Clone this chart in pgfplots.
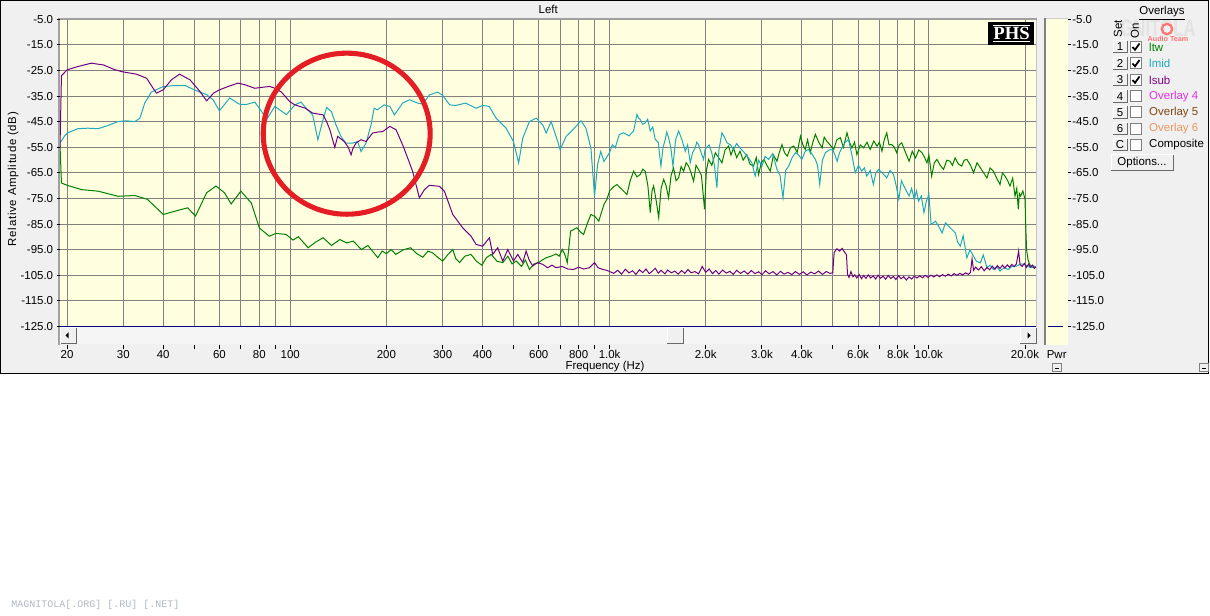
\documentclass[border=0pt]{standalone}
\usepackage{fontspec}
\setmainfont{Liberation Sans}
\newfontfamily\serifb{Liberation Serif}
\newfontfamily\monof{Liberation Mono}
\usepackage{pgfplots}
\pgfplotsset{compat=1.18}
\definecolor{winbg}{RGB}{240,240,240}
\definecolor{scrollc}{RGB}{245,245,245}
\definecolor{plotbg}{RGB}{255,255,224}
\definecolor{gridc}{RGB}{128,128,128}
\definecolor{framec}{RGB}{160,160,160}
\definecolor{ltwc}{RGB}{0,128,0}
\definecolor{lmidc}{RGB}{30,170,190}
\definecolor{lsubc}{RGB}{112,0,132}
\definecolor{lsubt}{RGB}{128,0,128}
\definecolor{ov4}{RGB}{225,50,225}
\definecolor{ov5}{RGB}{128,70,20}
\definecolor{ov6}{RGB}{235,150,100}
\definecolor{navyl}{RGB}{0,0,128}
\definecolor{redc}{RGB}{228,28,36}
\definecolor{wmc}{RGB}{175,185,195}
\definecolor{btndark}{RGB}{105,105,105}
\newcommand\uifont{\fontsize{8.6}{10}\selectfont}
\newcommand{\ovrow}[5]{%
  \fill[winbg] (1113,#1-6) rectangle (1127,#1+6);
  \draw[white,line width=0.75pt] (1113,#1+6)--(1113,#1-6)--(1127,#1-6);
  \draw[btndark,line width=0.75pt] (1127,#1-6)--(1127,#1+6)--(1113,#1+6);
  \node at (1120,#1) {#2};
  \filldraw[fill=white,draw=gray,line width=0.75pt] (1130.5,#1-5.5) rectangle (1141.5,#1+5.5);
  \ifnum#5=1 \draw[black,line width=1.3pt] (1132.5,#1) -- (1135,#1+2.8) -- (1139.5,#1-3.5);\fi
  \node[anchor=west,text=#4] at (1144.5,#1) {#3};
}
\begin{document}
\begin{tikzpicture}[x=0.75pt,y=-0.75pt,every node/.style={font=\uifont}]
\fill[white] (0,0) rectangle (1210,616);
\fill[winbg] (0,0) rectangle (1209,374);
\draw[black,line width=0.75pt] (0.5,0.5) rectangle (1208.5,373.5);
% overlays panel watermark (faint logo behind the panel)
\node[text=black!11,font=\fontsize{18}{18}\selectfont\bfseries,inner sep=0pt,xscale=0.7] at (1158,28.5) {GNITOLA};
\draw[red!55,line width=1.7pt] (1167,29) circle [radius=3.9pt];
\node[text=red!55,font=\fontsize{5.4}{5.4}\selectfont\bfseries,inner sep=0pt] at (1168,39) {Audio Team};
\coordinate (axSW) at (60,326.6);
\begin{axis}[
  at={(axSW)}, anchor=south west,
  scale only axis, width=732.4pt, height=230.4pt,
  xmode=log, log basis x=10,
  xmin=19, xmax=21735, ymin=-125, ymax=-5,
  axis background/.style={fill=plotbg},
  axis line style={draw=none},
  grid=major, major grid style={draw=gridc,line width=0.75pt},
  xtick={20,30,40,50,60,70,80,90,100,200,300,400,500,600,700,800,900,1000,2000,3000,4000,5000,6000,7000,8000,9000,10000,20000},
  xticklabels={20,30,40,,60,,80,,100,200,300,400,,600,,800,,1.0k,2.0k,3.0k,4.0k,,6.0k,,8.0k,,10.0k,20.0k},
  ytick={-125,-115,-105,-95,-85,-75,-65,-55,-45,-35,-25,-15,-5},
  yticklabels={-125.0,-115.0,-105.0,-95.0,-85.0,-75.0,-65.0,-55.0,-45.0,-35.0,-25.0,-15.0,-5.0},
  tick style={draw=none}, major tick length=0pt,
  xticklabel style={font=\uifont,anchor=center,inner sep=0pt,yshift=-20.7pt},
  yticklabel style={font=\uifont,anchor=east,inner sep=0pt,xshift=-5pt},
  every axis title shift=0pt,
  title={Left}, title style={font=\uifont,at={(axis description cs:0.5,1.0322)},anchor=center,inner sep=0pt},
  xlabel={Frequency (Hz)}, xlabel style={font=\uifont,at={(axis description cs:0.5581,-0.1305)},anchor=center},
  ylabel={\addfontfeatures{LetterSpace=6}Relative Amplitude (dB)}, ylabel style={font=\uifont,at={(axis description cs:-0.0481,0.4805)},anchor=center},
  clip=false,
  every axis plot/.append style={line width=0.75pt},
]
% ltw
\addplot[ltwc] coordinates {
(19.0,-54) (19.2,-68.9) (20,-69.8) (22.2,-71.5) (25,-72.1) (28.9,-74.1) (32.6,-73.8) (35.7,-75.3) (40,-81.2) (44.5,-79.6) (47.7,-78.6) (50.5,-81.8) (54.7,-72.7) (58.5,-70.1) (62.2,-72.7) (65.3,-77.1) (70,-72.1) (75.5,-76.7) (80,-86.5) (86,-89.7) (90,-88.6) (97,-89) (102,-91.2) (106,-89.9) (113.7,-94.2) (120,-92) (126.7,-90.3) (134.6,-93.3) (142.9,-91) (150,-92.3) (157.4,-91.6) (167,-94.9) (175,-93.3) (188,-98.1) (194,-95.5) (200,-96.5) (207,-94.9) (214,-96.8) (226,-95) (238,-94.2) (249,-96.5) (260,-97.9) (270,-95.5) (279,-96.2) (290,-98) (300,-99.4) (311,-97) (322.7,-94.9) (330,-98.5) (339,-100) (352,-97.5) (368,-96.8) (383,-99.5) (398,-101) (412,-98) (426,-96.8) (444,-99.5) (463,-100) (480,-97.5) (495,-100.5) (510,-99.4) (530,-101.5) (545,-99) (561,-102.7) (580,-100.5) (600,-100) (615,-99) (633,-98.1) (655,-97.5) (680,-96.6) (695,-97.5) (712,-94.9) (725,-97) (737,-100) (755,-87.7) (790,-86.4) (810,-88) (829,-89) (850,-85) (874,-81.2) (900,-82) (925,-83.8) (945,-80) (960,-77.3) (981,-75.3) (1000,-72) (1029,-70.4) (1055,-69.5) (1080,-70.8) (1105,-72) (1133,-73.4) (1160,-68) (1189,-64.3) (1218,-66.5) (1247,-65.6) (1270,-63.5) (1293,-64.3) (1318,-70) (1341,-80.5) (1358,-72) (1374,-70.1) (1400,-76) (1425,-82.5) (1450,-71) (1477,-67.5) (1503,-70) (1530,-74.7) (1558,-66) (1586,-63) (1615,-68) (1645,-66.9) (1675,-62.5) (1706,-64.3) (1737,-61) (1768,-62.3) (1800,-65) (1833,-68.2) (1865,-62) (1898,-63.6) (1940,-66) (1983,-79.2) (2010,-64) (2042,-59.7) (2090,-62) (2144,-57.1) (2195,-59) (2248,-61) (2300,-56) (2359,-54.5) (2400,-58) (2444,-55.2) (2500,-59) (2561,-56.5) (2620,-60) (2690,-57.8) (2750,-61.5) (2822,-62.3) (2880,-59) (2929,-65.6) (2985,-61) (3044,-59.7) (3110,-62) (3185,-64.3) (3260,-58) (3344,-60.4) (3400,-57) (3465,-53.9) (3530,-57) (3600,-58.4) (3690,-55) (3775,-54.5) (3870,-57) (3960,-50.6) (4030,-54) (4100,-55.8) (4170,-52) (4250,-57.1) (4330,-53) (4410,-49.9) (4520,-53) (4630,-55.2) (4700,-51) (4790,-52.6) (4900,-54) (5033,-55.8) (5150,-52) (5280,-51.2) (5400,-55) (5540,-49.3) (5640,-53) (5740,-55.2) (5850,-53) (5950,-57.8) (6100,-54) (6240,-55.2) (6400,-53) (6550,-55.8) (6720,-52.5) (6880,-54.5) (7000,-53) (7130,-56.5) (7250,-52) (7380,-49.3) (7500,-54) (7650,-53.9) (7800,-55) (7930,-57.1) (8070,-54) (8220,-53.2) (8450,-57) (8670,-60.4) (8870,-56.5) (9080,-59.1) (9300,-56) (9520,-57.1) (9700,-59) (9860,-61) (10000,-58) (10200,-66.2) (10400,-61) (10600,-59.7) (10850,-62) (11110,-63.6) (11380,-60) (11650,-60.4) (11850,-62) (12080,-59.1) (12370,-61.5) (12670,-62.3) (12900,-60) (13150,-59.7) (13500,-62) (13800,-64.9) (14150,-61) (14500,-63) (14850,-65) (15200,-66.9) (15550,-63) (15920,-64.3) (16300,-67) (16700,-69.5) (17000,-65) (17310,-66.2) (17650,-68) (17950,-70.1) (18300,-67) (18610,-74) (18850,-71) (19060,-79.2) (19200,-73) (19380,-74) (19700,-72) (20000,-75.3) (20100,-85) (20220,-94.9) (20450,-99) (20700,-100.8) (21000,-101.5) (21280,-102) (21700,-101.8)
};
% lmid
\addplot[lmidc] coordinates {
(19.0,-53.3) (19.6,-50.7) (20,-49.4) (21.6,-47.7) (23.2,-47.5) (25,-47.7) (26.9,-46.4) (28.9,-44.9) (30.5,-44.6) (32.6,-44.9) (33.8,-43.6) (35,-37.7) (36.7,-33.4) (40,-31.2) (43,-30.9) (46.8,-30.8) (50,-32.5) (54.7,-34.4) (57.3,-36.4) (60,-40.7) (64.6,-35.7) (69.2,-38.1) (72.5,-38.3) (77.4,-37.3) (81.3,-40.9) (84.2,-44.2) (89.4,-39) (93,-40.5) (97.3,-42.2) (103.3,-38.4) (108,-37.3) (113.3,-40.3) (117.5,-42.3) (122,-52) (126.7,-44) (130,-39.4) (134.5,-41) (139,-46.2) (144,-50.7) (149.3,-53.3) (157,-53.3) (162.5,-52.7) (166.5,-56.6) (172.7,-53.3) (179,-46.2) (183,-39.7) (187.4,-40.3) (196.8,-38.4) (205,-39) (211.9,-42.3) (224.8,-37.7) (235.9,-36.4) (250.7,-37.7) (260,-38.1) (272.6,-34.5) (289.7,-33.4) (300,-34.7) (315.7,-38.4) (330,-38.6) (354,-37.7) (381.8,-39.7) (400.6,-38.6) (420,-39) (441,-43.6) (474,-47.5) (500,-52.7) (519,-61.1) (534.6,-51.4) (561,-44.9) (589,-43.6) (617.7,-46.2) (632.8,-49.4) (656,-44.9) (688,-52.7) (700,-55.9) (731,-50.7) (767.4,-48.1) (814,-44.6) (843,-47.5) (874,-55.3) (897,-74.1) (917,-61.8) (938,-56.6) (960,-60.5) (1000,-57) (1020,-54) (1041,-55.2) (1072,-50) (1106,-49.3) (1150,-50.5) (1189,-48.6) (1205,-45) (1218,-42.1) (1232,-43.5) (1247,-44.1) (1270,-46) (1293,-45.4) (1316,-44) (1341,-48.6) (1365,-47) (1390,-51.9) (1420,-53) (1448,-62.3) (1470,-55) (1494,-51.9) (1510,-49) (1530,-51.2) (1555,-55) (1579,-62.3) (1610,-52) (1645,-48.6) (1685,-52) (1726,-56.5) (1755,-54) (1789,-61) (1820,-57) (1854,-55.2) (1875,-53) (1898,-53.9) (1935,-57) (1969,-59.7) (1990,-56) (2007,-55.2) (2050,-54) (2089,-57.1) (2130,-62) (2168,-70.8) (2200,-56) (2248,-49.3) (2290,-51) (2331,-53.2) (2390,-54) (2444,-55.8) (2500,-53.5) (2561,-55.2) (2640,-57) (2722,-59.1) (2790,-61) (2857,-66.2) (2930,-60) (3000,-62.3) (3070,-58.5) (3148,-59.7) (3240,-57.5) (3344,-63.6) (3420,-66) (3492,-74.7) (3560,-64) (3640,-62.3) (3730,-59) (3820,-57.1) (3910,-58) (4000,-59.7) (4100,-56.5) (4200,-55.8) (4300,-57.5) (4410,-59.7) (4480,-62) (4550,-69.5) (4640,-60) (4740,-57.1) (4870,-56) (5000,-55.8) (5080,-58) (5160,-60.4) (5250,-57) (5340,-55.2) (5470,-53) (5600,-51.9) (5740,-58) (5880,-64.9) (6020,-62) (6160,-64.3) (6280,-63) (6390,-66.2) (6550,-64) (6700,-69.5) (6820,-65) (6950,-63.6) (7150,-65) (7380,-66.9) (7560,-64) (7750,-65.6) (7900,-70) (8050,-75.3) (8200,-68) (8350,-70.1) (8500,-72) (8670,-74) (8830,-71) (9000,-75.3) (9140,-72) (9280,-76) (9470,-74) (9650,-80.5) (9820,-76) (10000,-73.4) (10160,-85.1) (10490,-83.8) (10750,-86) (11000,-88.4) (11270,-84.5) (11540,-85.8) (11800,-87) (12100,-88.4) (12300,-92) (12540,-93.6) (12800,-89.5) (13150,-98.1) (13450,-95) (13800,-97.5) (14100,-99.5) (14500,-100.1) (14800,-97) (15200,-102) (15550,-101) (15920,-102.7) (16300,-101.5) (16700,-103.3) (17200,-102) (17720,-102.7) (18200,-101.5) (18800,-101.4) (19400,-100.5) (20000,-100.8) (20500,-101.6) (20900,-102) (21300,-101.3) (21700,-102)
};
% lsub
\addplot[lsubc] coordinates {
(19.0,-55) (19.2,-27) (20,-24.7) (21.5,-23.5) (23.8,-22.1) (26,-22.8) (28,-24.5) (29.6,-25.4) (33,-26.4) (35.5,-28) (37,-31.5) (38.1,-33.8) (40,-32.5) (42.5,-28.5) (45,-26.4) (48.5,-28.6) (52,-33) (54.7,-36.8) (57.5,-33.8) (60,-32.5) (63.9,-31.2) (68.5,-29.9) (72,-30.5) (77.4,-31.9) (82,-31.5) (86.2,-31.2) (90,-32) (93.8,-33.4) (99.6,-37.1) (103,-38.3) (107,-39) (111,-39.6) (117.5,-41.6) (126.7,-42.3) (130,-45) (133,-48.1) (137.8,-55) (140.7,-50.7) (147.6,-52.7) (152,-55) (155,-57.9) (157,-55.5) (160.6,-53.3) (166.5,-52) (172.7,-52.7) (181,-49.4) (188,-49) (194.7,-48.8) (205,-46.8) (214.4,-48.1) (224.8,-54) (233.2,-59.2) (241.7,-64.4) (253.6,-74.7) (263,-71.5) (272.6,-69.8) (293,-70.2) (303.8,-72.1) (322.7,-81.2) (346.7,-86.4) (368.3,-89.7) (381.8,-92.9) (400.6,-93.6) (410,-92) (420.3,-90.3) (430.5,-96.8) (446.3,-94.2) (462.7,-99.4) (479.7,-94.9) (500,-99.4) (515.7,-96.8) (534.6,-100) (547.6,-95.5) (560,-99) (574.6,-101.3) (595,-100) (617.7,-100.7) (640,-102) (660,-101) (680,-102) (710,-101.5) (740,-102.5) (770,-102.7) (800,-101.8) (830,-102.5) (865,-102) (897,-100) (920,-102) (952.8,-102.7) (980,-103) (1000,-103.5) (1030,-104.2) (1060,-103) (1090,-104.5) (1120,-102.6) (1150,-104) (1180,-103.2) (1210,-104.6) (1240,-102.8) (1270,-103.9) (1300,-102.5) (1330,-104.3) (1360,-103.4) (1390,-102.2) (1420,-104.1) (1450,-103) (1490,-104.4) (1520,-102.9) (1560,-104) (1600,-103.3) (1640,-104.5) (1680,-103.1) (1720,-104.2) (1760,-102.7) (1800,-104) (1850,-103.5) (1900,-104.4) (1950,-101.5) (2000,-103.8) (2050,-102.5) (2100,-104.3) (2150,-103.1) (2200,-104.5) (2260,-102.9) (2320,-104.1) (2380,-103.4) (2440,-104.6) (2500,-103) (2570,-104.2) (2640,-103.3) (2710,-104.5) (2780,-103.1) (2850,-104.3) (2930,-103.6) (3000,-104.7) (3080,-103.2) (3160,-104.4) (3250,-103.5) (3340,-104.8) (3430,-103.4) (3520,-104.5) (3620,-103.8) (3720,-104.7) (3820,-103.5) (3930,-104.6) (4040,-103.6) (4150,-104.8) (4270,-103.7) (4390,-104.4) (4510,-103.3) (4640,-104.6) (4770,-103.5) (4900,-104.2) (5000,-104) (5050,-96) (5150,-94.6) (5250,-95.5) (5350,-94.5) (5450,-96) (5520,-97) (5560,-104.5) (5620,-105.8) (5700,-103.5) (5780,-105.5) (5860,-104.8) (5950,-106) (6050,-104.7) (6150,-106.3) (6250,-105) (6350,-106.2) (6460,-104.8) (6570,-106) (6690,-105.2) (6810,-106.4) (6930,-104.9) (7060,-106.1) (7190,-105.3) (7320,-106.5) (7460,-105) (7600,-106.2) (7740,-105.4) (7880,-106.6) (8030,-105.1) (8180,-106.3) (8340,-105.5) (8500,-106.8) (8660,-105.6) (8830,-106.4) (9000,-105.3) (9180,-106) (9360,-105.2) (9550,-105.9) (9740,-105) (9940,-105.8) (10150,-104.9) (10360,-105.6) (10580,-104.8) (10800,-105.5) (11030,-104.7) (11260,-105.3) (11500,-104.5) (11750,-105.2) (12000,-104.3) (12250,-105) (12500,-104.2) (12760,-104.8) (13030,-104) (13300,-104.6) (13500,-103.8) (13650,-98.5) (13800,-103) (14000,-101.8) (14300,-102.9) (14600,-101.6) (14900,-103.2) (15200,-101.9) (15500,-102.8) (15800,-101.4) (16100,-102.6) (16400,-101.2) (16700,-102.3) (17000,-101) (17300,-102.1) (17600,-100.9) (17900,-101.8) (18200,-100.7) (18500,-101.6) (18800,-100.5) (19100,-95.5) (19300,-100.8) (19600,-101.5) (19900,-100.3) (20200,-101.9) (20500,-100.6) (20800,-101.7) (21100,-101) (21400,-102.2) (21700,-101.5)
};
% power line
\addplot[navyl] coordinates {(19,-125) (21735,-125)};
\end{axis}
% plot frame
\fill[framec] (57.7,17.7) rectangle (1036.8,19.6);
\fill[framec] (57.7,17.7) rectangle (59.7,345);
\draw[gray!45,line width=0.75pt] (1036.9,19.6) -- (1036.9,327);
% left y ticks
\foreach \d in {0,...,12} \draw[black,line width=0.75pt] (56.5,{19.4+25.6*\d}) -- (59.7,{19.4+25.6*\d});
% scrollbar
\fill[scrollc] (59.7,327.4) rectangle (1036.8,344.5);
\fill[winbg] (60.5,328) rectangle (76.5,344);
\draw[white,line width=0.75pt] (60.5,344)--(60.5,328)--(76.5,328);
\draw[btndark,line width=0.75pt] (76.5,328)--(76.5,344)--(60.5,344);
\fill[black] (65.5,335.5) -- (68.5,332.5) -- (68.5,338.5) -- cycle;
\fill[winbg] (1020,328) rectangle (1036,344);
\draw[white,line width=0.75pt] (1020,344)--(1020,328)--(1036,328);
\draw[btndark,line width=0.75pt] (1036,328)--(1036,344)--(1020,344);
\fill[black] (1030.5,335.5) -- (1027.5,332.5) -- (1027.5,338.5) -- cycle;
\fill[winbg] (667,328) rectangle (683,343.5);
\draw[white,line width=0.75pt] (667,343.5)--(667,328)--(683,328);
\draw[btndark,line width=0.75pt] (683,328)--(683,343.5)--(667,343.5);
% x ticks (frequency / 100)
\foreach \f in {0.2,0.3,0.4,0.5,0.6,0.7,0.8,0.9,1,2,3,4,5,6,7,8,9,10,20,30,40,50,60,70,80,90,100,200}
  \draw[black,line width=0.75pt] ({290.3+319.3*log10(\f)},345.2) -- ++(0,3.6);
% PHS logo
\fill[black] (988,22) rectangle (1034,45);
\node[text=white,font=\serifb\bfseries\fontsize{14}{14}\selectfont,inner sep=0pt] at (1011.5,33.6) {PHS};
\draw[white,line width=0.9pt] (993,25.5) -- (1030,25.5);
\draw[white,line width=0.9pt] (993,41.5) -- (1030,41.5);
% red circle
\draw[redc,line width=3.8pt] (346.7,133.7) ellipse [x radius=62.6pt, y radius=60.4pt];
% Pwr bar
\coordinate (pwrSW) at (1046.3,345);
\begin{axis}[
  at={(pwrSW)}, anchor=south west,
  scale only axis, width=15.9pt, height=244.9pt,
  xmin=0, xmax=1, ymin=-132.19, ymax=-4.65,
  axis background/.style={fill=plotbg},
  axis line style={draw=none},
  xtick=\empty,
  ytick={-125,-115,-105,-95,-85,-75,-65,-55,-45,-35,-25,-15,-5},
  yticklabels={-125.0,-115.0,-105.0,-95.0,-85.0,-75.0,-65.0,-55.0,-45.0,-35.0,-25.0,-15.0,-5.0},
  ytick pos=right, yticklabel pos=right,
  tick style={draw=none}, major tick length=0pt,
  yticklabel style={font=\uifont,anchor=west,inner sep=0pt,xshift=3.4pt},
]
\addplot[navyl,line width=0.75pt] coordinates {(0.09,-125) (0.8,-125)};
\end{axis}
\fill[gray] (1044.3,18.3) rectangle (1046.3,345);
\draw[gray!40,line width=0.75pt] (1046.3,18.6) -- (1067.5,18.6);
\foreach \d in {0,...,12} \draw[black,line width=0.75pt] (1067.8,{19.4+25.6*\d}) -- (1071,{19.4+25.6*\d});
\node at (1056.7,354.2) {Pwr};
% small boxes
\filldraw[fill=winbg,draw=gray,line width=0.6pt] (1052,363) rectangle (1061,371.5);
\draw[black,line width=0.75pt] (1054.5,368.5) -- (1058.5,368.5);
\filldraw[fill=winbg,draw=gray,line width=0.6pt] (1199.5,363) rectangle (1208,371.5);
\draw[black,line width=0.75pt] (1202,368.5) -- (1206,368.5);
% overlays panel
\node at (1162,13) {\underline{Overlays}};
\node[rotate=90] at (1118,29) {Set};
\node[rotate=90] at (1135,31) {On};
\ovrow{47}{1}{ltw}{ltwc}{1}
\ovrow{63.5}{2}{lmid}{lmidc}{1}
\ovrow{80}{3}{lsub}{lsubt}{1}
\ovrow{96.3}{4}{Overlay 4}{ov4}{0}
\ovrow{112.5}{5}{Overlay 5}{ov5}{0}
\ovrow{128.7}{6}{Overlay 6}{ov6}{0}
\ovrow{144.8}{C}{Composite}{black}{0}
\fill[winbg] (1111,155) rectangle (1173,171);
\draw[white,line width=0.75pt] (1111,171)--(1111,155)--(1173,155);
\draw[btndark,line width=0.75pt] (1173,155)--(1173,171)--(1111,171);
\node at (1142,163) {Options...};
% site watermark
\node[anchor=west,text=wmc,font=\monof\fontsize{7.5}{9}\selectfont,inner sep=0pt] at (11,605) {MAGNITOLA[.ORG] [.RU] [.NET]};
\end{tikzpicture}
\end{document}
